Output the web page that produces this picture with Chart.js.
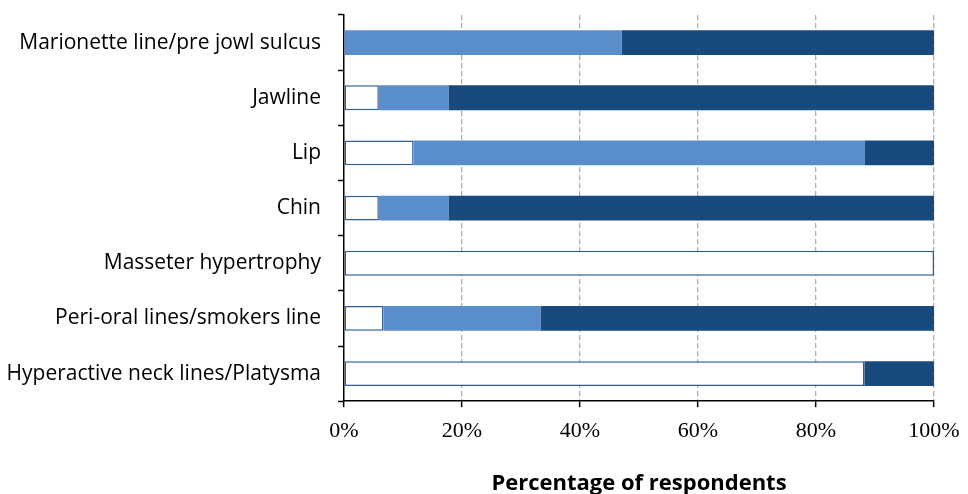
<!DOCTYPE html>
<html>
<head>
<meta charset="utf-8">
<script src="https://cdn.jsdelivr.net/npm/chart.js@4"></script>
<style>
  body { margin: 0; background: #fff; }
</style>
</head>
<body>
<canvas id="chart" width="968" height="494"></canvas>
<script>
// categories (top to bottom)
const areas = [
  "Marionette line/pre jowl sulcus",
  "Jawline",
  "Lip",
  "Chin",
  "Masseter hypertrophy",
  "Peri-oral lines/smokers line",
  "Hyperactive neck lines/Platysma"
]

// percentages per segment, left to right
const white_vals = [0, 5.9, 11.8, 5.9, 100, 6.7, 88.2]
const light_vals = [47.1, 11.8, 76.5, 11.8, 0, 26.6, 0]
const dark_vals = [52.9, 82.3, 11.7, 82.3, 0, 66.7, 11.8]

const x_ticks = [0, 20, 40, 60, 80, 100]

new Chart(document.getElementById("chart"), {
  type: 'bar',
  data: {
    labels: areas,
    datasets: [{
        data: white_vals,
        backgroundColor: "#ffffff",
        borderColor: "#2f5d9a",
        borderWidth: 1.5,
        borderSkipped: false,
        categoryPercentage: 1,
        barPercentage: 0.45
      }, {
        data: light_vals,
        backgroundColor: "#598dcb",
        categoryPercentage: 1,
        barPercentage: 0.45
      }, {
        data: dark_vals,
        backgroundColor: "#184a7e",
        categoryPercentage: 1,
        barPercentage: 0.45
      }
    ]
  },
  options: {
    indexAxis: 'y',
    responsive: false,
    animation: false,
    layout: { padding: { top: 15, right: 34, left: 0, bottom: -3 } },
    plugins: { legend: { display: false }, tooltip: { enabled: false } },
    scales: {
      x: {
        stacked: true,
        min: 0,
        max: 100,
        afterBuildTicks: (axis) => { axis.ticks = x_ticks.map(v => ({ value: v })) },
        afterFit: (axis) => { axis.paddingLeft = 0; axis.paddingRight = 0 },
        ticks: {
          callback: (v) => v + '%',
          color: "#000",
          padding: 11,
          font: { family: "Liberation Serif", size: 22 }
        },
        grid: {
          color: (ctx) => ctx.tick && ctx.tick.value === 0 ? 'rgba(0,0,0,0)' : '#b0b0b0',
          lineWidth: 1.3,
          tickColor: "#000",
          tickLength: 6,
          tickWidth: 1.5
        },
        border: { color: "#000", width: 1.5, dash: [5, 3] },
        title: {
          display: true,
          text: "Percentage of respondents",
          color: "#000",
          font: { family: "Open Sans", size: 22, weight: 'bold' },
          padding: { top: 15, bottom: 0 }
        }
      },
      y: {
        stacked: true,
        afterFit: (axis) => { axis.width = 344; axis.paddingTop = 0; axis.paddingBottom = 0 },
        ticks: {
          color: "#000",
          padding: 17,
          font: { family: "Open Sans", size: 21 }
        },
        grid: {
          offset: true,
          drawOnChartArea: false,
          tickColor: "#000",
          tickLength: 6,
          tickWidth: 1.5
        },
        border: { color: "#000", width: 1.5 }
      }
    }
  }
});
</script>
</body>
</html>
